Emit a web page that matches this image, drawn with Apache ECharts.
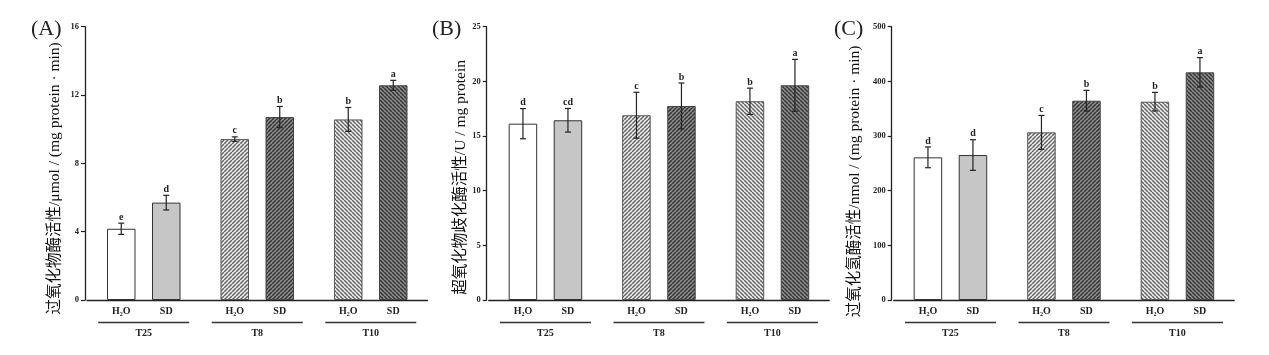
<!DOCTYPE html>
<html>
<head>
<meta charset="utf-8">
<script src="https://cdn.jsdelivr.net/npm/echarts@6/dist/echarts.min.js"></script>
<style>html,body{margin:0;padding:0;background:#fff}#c{width:1269px;height:355px}</style>
</head>
<body>
<div id="c"></div>
<script>
// ---- data ----
const groups = ['T25', 'T8', 'T10'];
const treatments = ['H₂O', 'SD'];

const aH2O = [4.17, 9.42, 10.57];
const aH2OErr = [0.33, 0.13, 0.70];
const aSD = [5.70, 10.71, 12.57];
const aSDErr = [0.43, 0.62, 0.29];
const aH2OSig = ['e', 'c', 'b'];
const aSDSig = ['d', 'b', 'a'];

const bH2O = [16.13, 16.90, 18.18];
const bH2OErr = [1.38, 2.10, 1.20];
const bSD = [16.44, 17.75, 19.64];
const bSDErr = [1.08, 2.10, 2.37];
const bH2OSig = ['d', 'c', 'b'];
const bSDSig = ['cd', 'b', 'a'];

const cH2O = [261, 306.7, 362.8];
const cH2OErr = [19, 31, 17];
const cSD = [265.2, 364.6, 416.5];
const cSDErr = [28, 19, 27];
const cH2OSig = ['d', 'c', 'b'];
const cSDSig = ['d', 'b', 'a'];

const yNames = [
  '过氧化物酶活性/μmol / (mg protein · min)',
  '超氧化物歧化酶活性/U / mg protein',
  '过氧化氢酶活性/nmol / (mg protein · min)'
];
const panelLabels = ['(A)', '(B)', '(C)'];
const yMax = [16, 25, 500];
const yStep = [4, 5, 100];

// ---- styles ----
const SERIF = '"Liberation Serif", "Times New Roman", "Noto Sans CJK SC", serif';
const INK = '#222';

function hatch(bg, fg, dir) {
  const s = 4;
  const cv = document.createElement('canvas');
  cv.width = s; cv.height = s;
  const ctx = cv.getContext('2d');
  ctx.fillStyle = bg; ctx.fillRect(0, 0, s, s);
  ctx.strokeStyle = fg; ctx.lineWidth = 1.5;
  ctx.beginPath();
  for (let k = -1; k <= 1; k++) {
    if (dir === '/') { ctx.moveTo(k * s, s); ctx.lineTo(k * s + s, 0); }
    else { ctx.moveTo(k * s, 0); ctx.lineTo(k * s + s, s); }
  }
  ctx.stroke();
  return { image: cv, repeat: 'repeat' };
}

// style per [group][treatment]
const barStyles = [
  [{ color: '#ffffff', borderColor: '#333', borderWidth: 1 },
   { color: '#c6c6c6', borderColor: '#333', borderWidth: 1 }],
  [{ color: hatch('#f0f0f0', '#666666', '/'), borderColor: '#555', borderWidth: 1 },
   { color: hatch('#8e8e8e', '#363636', '/'), borderColor: '#444', borderWidth: 1 }],
  [{ color: hatch('#f0f0f0', '#666666', '\\'), borderColor: '#555', borderWidth: 1 },
   { color: hatch('#8e8e8e', '#363636', '\\'), borderColor: '#444', borderWidth: 1 }]
];

const panels = [
  { h: aH2O, he: aH2OErr, hs: aH2OSig, s: aSD, se: aSDErr, ss: aSDSig },
  { h: bH2O, he: bH2OErr, hs: bH2OSig, s: bSD, se: bSDErr, ss: bSDSig },
  { h: cH2O, he: cH2OErr, hs: cH2OSig, s: cSD, se: cSDErr, ss: cSDSig }
];

// layout
const axisX = [85, 486.7, 891.7];
const nameGap = [22, 16, 29];
const namePad = [30, 28, 36];
const gridW = 340.5;
const plotTop = 26.7, plotBottom = 300;

const chart = echarts.init(document.getElementById('c'), null, { renderer: 'canvas' });

const grids = [], xAxes = [], yAxes = [], series = [], titles = [];

panels.forEach((p, pi) => {
  const left = axisX[pi] + 2;
  grids.push({ left: left, width: gridW, top: plotTop, height: plotBottom - plotTop });
  titles.push({
    text: panelLabels[pi],
    left: [26, 427, 829][pi], top: 13,
    textStyle: { fontFamily: SERIF, fontSize: 22, fontWeight: 'normal', color: INK }
  });
  xAxes.push({
    gridIndex: pi, type: 'category', data: groups,
    axisLine: { lineStyle: { color: INK, width: 1.3 } },
    axisTick: { show: false },
    axisLabel: {
      interval: 0, margin: 5,
      formatter: (v) => `{h|${treatments[0]}}{s|${treatments[1]}}\n{l| }\n{t|${v}}`,
      rich: {
        h: { width: 45, align: 'center', fontFamily: SERIF, fontWeight: 'bold', fontSize: 10, color: INK, lineHeight: 13 },
        s: { width: 45, align: 'center', fontFamily: SERIF, fontWeight: 'bold', fontSize: 10, color: INK, lineHeight: 13 },
        l: { width: 91, height: 1.5, fontSize: 1, lineHeight: 9, backgroundColor: '#333' },
        t: { width: 91, align: 'center', fontFamily: SERIF, fontWeight: 'bold', fontSize: 10, color: INK, lineHeight: 13 }
      }
    }
  });
  yAxes.push({
    gridIndex: pi, type: 'value', min: 0, max: yMax[pi], interval: yStep[pi], offset: 2,
    name: yNames[pi], nameLocation: 'middle', nameGap: nameGap[pi], nameRotate: 90,
    nameTextStyle: { fontFamily: SERIF, fontSize: 15.5, color: '#111', padding: [0, namePad[pi], 0, 0] },
    axisLine: { show: true, lineStyle: { color: INK, width: 1.3 } },
    axisTick: { show: true, length: 4, lineStyle: { color: INK, width: 1.2 } },
    axisLabel: { fontFamily: SERIF, fontWeight: 'bold', fontSize: 8.5, color: INK, margin: 6 },
    splitLine: { show: false }
  });

  const sets = [
    { vals: p.h, errs: p.he, sig: p.hs, ti: 0 },
    { vals: p.s, errs: p.se, sig: p.ss, ti: 1 }
  ];
  sets.forEach((st) => {
    series.push({
      type: 'bar', xAxisIndex: pi, yAxisIndex: pi, name: treatments[st.ti],
      barWidth: 28.5, barGap: '58%',
      data: st.vals.map((v, gi) => ({ value: v, itemStyle: barStyles[gi][st.ti] })),
      z: 2
    });
  });
  sets.forEach((st) => {
    const dx = st.ti === 0 ? -22.5 : 22.5;
    series.push({
      type: 'custom', xAxisIndex: pi, yAxisIndex: pi, z: 5,
      data: st.vals.map((v, gi) => [gi, v, st.errs[gi]]),
      encode: { x: 0, y: 1 },
      renderItem: (params, api) => {
        const gi = api.value(0), v = api.value(1), e = api.value(2);
        const top = api.coord([gi, v + e]);
        const bot = api.coord([gi, v - e]);
        const x = top[0] + dx;
        const cap = 3;
        const ls = { stroke: '#222', lineWidth: 1.2 };
        return {
          type: 'group',
          children: [
            { type: 'line', shape: { x1: x, y1: top[1], x2: x, y2: bot[1] }, style: ls },
            { type: 'line', shape: { x1: x - cap, y1: top[1], x2: x + cap, y2: top[1] }, style: ls },
            { type: 'line', shape: { x1: x - cap, y1: bot[1], x2: x + cap, y2: bot[1] }, style: ls },
            { type: 'text', x: x, y: top[1] - 1,
              style: { text: st.sig[params.dataIndex], fill: '#222', font: 'bold 10px ' + SERIF,
                       align: 'center', verticalAlign: 'bottom' } }
          ]
        };
      }
    });
  });
});

chart.setOption({
  backgroundColor: '#fff',
  animation: false,
  title: titles,
  grid: grids,
  xAxis: xAxes,
  yAxis: yAxes,
  series: series
});
</script>
</body>
</html>
